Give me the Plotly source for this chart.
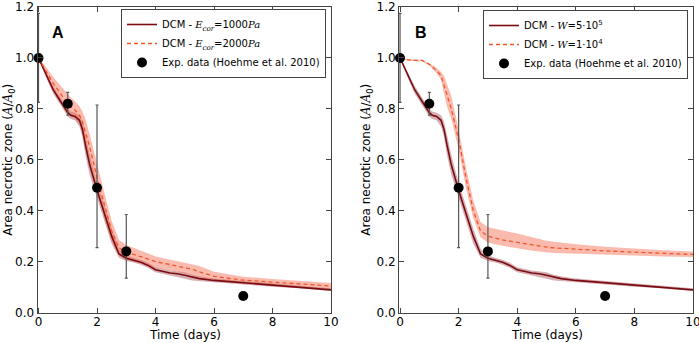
import plotly.graph_objects as go

# ---------------- data ----------------
t_dcm = [0, 0.25, 0.5, 0.75, 1.0, 1.1, 1.25, 1.4, 1.5, 1.6, 1.75, 2.0, 2.25, 2.5, 2.75,
         3.0, 3.25, 3.5, 3.75, 4.0, 4.5, 4.75, 5.0, 5.25, 5.5, 6.0, 7.0, 8.0, 9.0, 10.0]

# DCM reference (E_cor = 1000 Pa, W = 5e5) -- identical in both panels
ref_mean = [1.0, 0.935, 0.875, 0.83, 0.785, 0.775, 0.77, 0.755, 0.72, 0.66, 0.58, 0.48, 0.39,
            0.30, 0.23, 0.213, 0.205, 0.197, 0.185, 0.168, 0.155, 0.152, 0.146, 0.138, 0.133,
            0.126, 0.117, 0.107, 0.099, 0.089]
ref_upper = [1.0, 0.945, 0.89, 0.845, 0.80, 0.79, 0.785, 0.775, 0.75, 0.70, 0.62, 0.51, 0.42,
             0.33, 0.25, 0.225, 0.215, 0.207, 0.195, 0.178, 0.165, 0.162, 0.158, 0.148, 0.142,
             0.134, 0.124, 0.113, 0.105, 0.095]
ref_lower = [1.0, 0.925, 0.86, 0.815, 0.77, 0.76, 0.755, 0.73, 0.69, 0.62, 0.54, 0.45, 0.36,
             0.27, 0.215, 0.202, 0.196, 0.188, 0.175, 0.158, 0.145, 0.14, 0.133, 0.126, 0.124,
             0.118, 0.11, 0.101, 0.094, 0.084]

# DCM with E_cor = 2000 Pa (panel A)
ecor2_mean = [1.0, 0.95, 0.9, 0.86, 0.82, 0.81, 0.795, 0.775, 0.75, 0.71, 0.65, 0.53, 0.42,
              0.32, 0.255, 0.235, 0.228, 0.22, 0.21, 0.2, 0.188, 0.183, 0.178, 0.17, 0.16,
              0.142, 0.127, 0.12, 0.113, 0.104]
ecor2_upper = [1.0, 0.965, 0.925, 0.89, 0.855, 0.845, 0.83, 0.81, 0.79, 0.76, 0.70, 0.58, 0.47,
               0.36, 0.285, 0.265, 0.255, 0.245, 0.232, 0.22, 0.208, 0.203, 0.198, 0.192, 0.183,
               0.16, 0.14, 0.132, 0.124, 0.116]
ecor2_lower = [1.0, 0.935, 0.875, 0.83, 0.785, 0.775, 0.76, 0.74, 0.71, 0.66, 0.6, 0.48, 0.37,
               0.28, 0.225, 0.208, 0.2, 0.193, 0.185, 0.176, 0.165, 0.16, 0.154, 0.146, 0.137,
               0.124, 0.113, 0.106, 0.1, 0.092]

# DCM with W = 1e4 (panel B)
w4_mean = [1.0, 0.993, 0.99, 0.99, 0.975, 0.965, 0.95, 0.93, 0.89, 0.85, 0.80, 0.68, 0.53,
           0.40, 0.32, 0.30, 0.292, 0.285, 0.28, 0.275, 0.265, 0.262, 0.257, 0.254, 0.252,
           0.248, 0.242, 0.237, 0.232, 0.228]
w4_upper = [1.0, 0.995, 0.993, 0.993, 0.98, 0.972, 0.96, 0.945, 0.93, 0.90, 0.85, 0.72, 0.57,
            0.44, 0.355, 0.335, 0.328, 0.322, 0.316, 0.31, 0.295, 0.29, 0.282, 0.278, 0.274,
            0.268, 0.258, 0.25, 0.245, 0.24]
w4_lower = [1.0, 0.99, 0.987, 0.987, 0.97, 0.958, 0.94, 0.915, 0.86, 0.81, 0.76, 0.64, 0.49,
            0.37, 0.295, 0.275, 0.268, 0.262, 0.256, 0.252, 0.243, 0.24, 0.237, 0.234, 0.232,
            0.229, 0.226, 0.223, 0.22, 0.218]

# Experimental data (Hoehme et al. 2010)
t_exp = [0, 1, 2, 3, 7]
a_exp = [1.0, 0.82, 0.49, 0.24, 0.065]
err_plus = [0.175, 0.045, 0.325, 0.145, 0.0]
err_minus = [0.175, 0.045, 0.235, 0.105, 0.0]

x_ticks = [0, 2, 4, 6, 8, 10]
y_ticks = [0.0, 0.2, 0.4, 0.6, 0.8, 1.0, 1.2]

# ---------------- styling ----------------
DARK = "#7a0c12"
ORANGE = "#f0562a"
DARK_FILL = "rgba(135,25,40,0.35)"
ORANGE_FILL = "rgba(245,105,75,0.45)"
FONT = "DejaVu Sans, Arial, sans-serif"
MATH = "font-family:'DejaVu Serif',serif"
SPINE = "#444444"


def m(s):
    return f"<span style=\"{MATH}\"><i>{s}</i></span>"


fig = go.Figure()


def band(xa, ya, t, lo, hi, color):
    fig.add_trace(go.Scatter(x=t + t[::-1], y=hi + lo[::-1], fill="toself", fillcolor=color,
                             line=dict(width=0), mode="lines", hoverinfo="skip",
                             showlegend=False, xaxis=xa, yaxis=ya))


def panel(xa, ya, leg, other_mean, other_lo, other_hi, name_ref, name_other):
    band(xa, ya, t_dcm, ref_lower, ref_upper, DARK_FILL)
    band(xa, ya, t_dcm, other_lo, other_hi, ORANGE_FILL)
    fig.add_trace(go.Scatter(x=t_dcm, y=ref_mean, mode="lines", name=name_ref,
                             line=dict(color=DARK, width=1.6), xaxis=xa, yaxis=ya, legend=leg))
    fig.add_trace(go.Scatter(x=t_dcm, y=other_mean, mode="lines", name=name_other,
                             line=dict(color=ORANGE, width=1.3, dash="4px,3px"),
                             xaxis=xa, yaxis=ya, legend=leg))
    fig.add_trace(go.Scatter(x=t_exp, y=a_exp, mode="markers",
                             name="Exp. data (Hoehme et al. 2010)",
                             marker=dict(color="black", size=10),
                             error_y=dict(type="data", symmetric=False, array=err_plus,
                                          arrayminus=err_minus, color="#555555",
                                          thickness=1.2, width=1.5),
                             cliponaxis=False, xaxis=xa, yaxis=ya, legend=leg))


panel("x", "y", "legend", ecor2_mean, ecor2_lower, ecor2_upper,
      f"DCM - {m('E')}<sub>{m('cor')}</sub>=1000{m('Pa')}",
      f"DCM - {m('E')}<sub>{m('cor')}</sub>=2000{m('Pa')}")
panel("x2", "y2", "legend2", w4_mean, w4_lower, w4_upper,
      f"DCM - {m('W')}=5·10<sup>5</sup>",
      f"DCM - {m('W')}=1·10<sup>4</sup>")

ydom = [1 - 312.5 / 343, 1 - 7 / 343]
axis_common = dict(showgrid=False, zeroline=False, showline=True, linecolor=SPINE,
                   linewidth=1, mirror="ticks", ticks="inside", ticklen=5, tickcolor=SPINE,
                   ticklabeloverflow="allow",
                   tickfont=dict(family=FONT, size=12, color="black"))
xaxis_common = dict(axis_common, ticklabelstandoff=-2)

legend_common = dict(xanchor="right", yanchor="top", bgcolor="white", bordercolor="#444444",
                     borderwidth=1, font=dict(family=FONT, size=10, color="black"),
                     tracegroupgap=0, itemwidth=30)

fig.update_layout(
    width=699, height=343,
    margin=dict(l=0, r=0, t=0, b=0, autoexpand=False),
    paper_bgcolor="white", plot_bgcolor="white",
    font=dict(family=FONT, color="black"),
    xaxis=dict(domain=[37.5 / 699, 331 / 699], range=[-0.035, 10], tickvals=x_ticks,
               **xaxis_common),
    yaxis=dict(domain=ydom, range=[0, 1.2], tickvals=y_ticks, tickformat=".1f", **axis_common),
    xaxis2=dict(domain=[399 / 699, 693 / 699], range=[-0.035, 10], tickvals=x_ticks,
                anchor="y2", **xaxis_common),
    yaxis2=dict(domain=ydom, range=[0, 1.2], tickvals=y_ticks, tickformat=".1f",
                anchor="x2", **axis_common),
    legend=dict(x=326 / 699, y=1 - 9 / 343, **legend_common),
    legend2=dict(x=688 / 699, y=1 - 10 / 343, **legend_common),
    showlegend=True,
)

TXT = dict(xref="paper", yref="paper", showarrow=False, xanchor="center", yanchor="middle",
           font=dict(family=FONT, size=12, color="black"))
ytitle = f"Area necrotic zone ({m('A')}/{m('A')}<sub>0</sub>)"
annots = [
    dict(text="<b>A</b>", x=0.65, y=1.10, xref="x", yref="y", showarrow=False,
         font=dict(family="Liberation Sans, Arial", size=16, color="black")),
    dict(text="<b>B</b>", x=0.7, y=1.10, xref="x2", yref="y2", showarrow=False,
         font=dict(family="Liberation Sans, Arial", size=16, color="black")),
    dict(text="Time (days)", x=(38.5 + 331) / 2 / 699, y=1 - 335 / 343, **TXT),
    dict(text="Time (days)", x=(400 + 693) / 2 / 699, y=1 - 335 / 343, **TXT),
    dict(text=ytitle, x=9 / 699, y=(ydom[0] + ydom[1]) / 2, textangle=-90, **TXT),
    dict(text=ytitle, x=367 / 699, y=(ydom[0] + ydom[1]) / 2, textangle=-90, **TXT),
]
fig.update_layout(annotations=annots)

fig.write_html("out.html", config={"displayModeBar": False},
               post_script="document.body.style.margin='0';document.body.style.overflow='hidden';")
